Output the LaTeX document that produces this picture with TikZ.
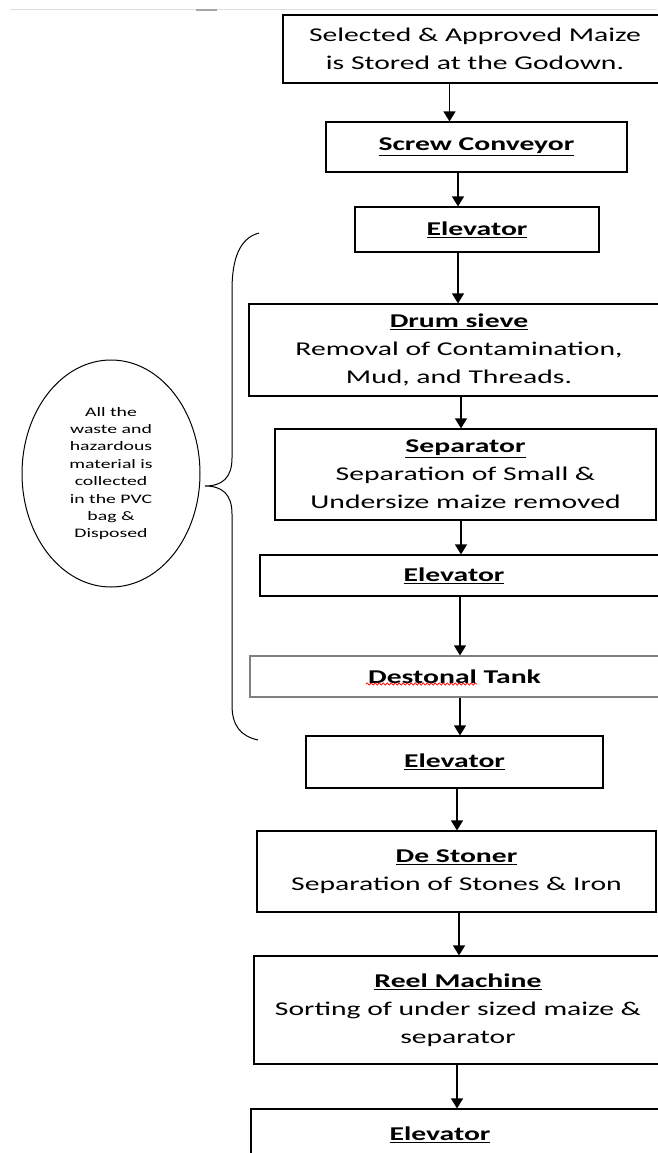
\documentclass[tikz,border=0pt]{standalone}
\usepackage{fontspec}
\setmainfont[FakeStretch=1.52]{Carlito}
\usetikzlibrary{arrows.meta,shapes.geometric,decorations.pathmorphing}
\newcommand{\ttl}[1]{\textbf{\underline{#1}}}

\begin{document}
\begin{tikzpicture}[x=1pt,y=-1pt,
  box/.style={draw,line width=1.2pt,rectangle,align=center,inner sep=0pt,font=\fontsize{19.5}{28}\selectfont},
  arr/.style={line width=1.3pt,-{Triangle[length=10pt,width=12pt]}}]
\useasboundingbox (0,0) rectangle (657,1153);
\fill[white] (0,0) rectangle (657,1153);
\draw[gray!25,line width=1pt] (10,10) -- (657,10);
\draw[gray!70,line width=1.5pt] (196,10) -- (217,10);

\node[box,minimum width=384pt,minimum height=68pt] (store) at (475,49) {Selected \& Approved Maize\\is Stored at the Godown.};
\node[box,minimum width=301pt,minimum height=50pt] (screw) at (476.5,147) {\ttl{Screw Conveyor}};
\node[box,minimum width=244pt,minimum height=45pt] (el1) at (477,229.5) {\ttl{Elevator}};
\node[box,minimum width=420pt,minimum height=92pt] (drum) at (459,350) {\ttl{Drum sieve}\\Removal of Contamination,\\Mud, and Threads.};
\node[box,minimum width=381pt,minimum height=91pt] (sep) at (465.5,474.5) {\ttl{Separator}\\Separation of Small \&\\Undersize maize removed};
\node[box,minimum width=400pt,minimum height=41pt] (el2) at (460,575.5) {\hspace*{-12pt}\ttl{Elevator}};
\node[box,draw=gray,minimum width=409pt,minimum height=41pt] (dtank) at (454.5,676.5) {\textbf{Destonal Tank}};
\node[box,minimum width=297pt,minimum height=52pt] (el3) at (454.5,762) {\ttl{Elevator}};
\node[box,minimum width=399pt,minimum height=81pt] (dstoner) at (456.5,871.5) {\ttl{De Stoner}\\Separation of Stones \& Iron};
\node[box,minimum width=408pt,minimum height=108pt] (reel) at (458,1010) {\ttl{Reel Machine}\\Sorting of under sized maize \&\\separator};
\node[box,minimum width=409pt,minimum height=51pt] (el4) at (455.5,1134.5) {\hspace*{-31pt}\ttl{Elevator}};

\draw[red,line width=0.7pt,decorate,decoration={snake,amplitude=1.1pt,segment length=4pt}] (366,684) -- (477,684);

\foreach \a/\b/\s/\t in {store/screw/-25.5/-27, screw/el1/-18.5/-19, el1/drum/-19/-1, drum/sep/2/-4.5, sep/el2/-4.5/1, el2/dtank/0/5.5, dtank/el3/5.5/5.5, el3/dstoner/2.5/0.5, dstoner/reel/2.5/1, reel/el4/-1/1.5}
  \draw[arr] ([xshift=\s pt]\a.south) -- ([xshift=\t pt]\b.north);

\node[draw,ellipse,line width=1pt,minimum width=178pt,minimum height=227pt,inner sep=0pt,align=center,font=\fontsize{13}{17.4}\selectfont] (waste) at (111,473.5) {All the\\waste and\\hazardous\\material is\\collected\\in the PVC\\bag \&\\Disposed};

\draw[line width=1pt] (259,233) .. controls (240,238) and (232,258) .. (232,290) -- (232,458) .. controls (232,478) and (222,486) .. (205,486) .. controls (222,486) and (232,494) .. (232,514) -- (232,705) .. controls (232,725) and (240,736) .. (258,740);
\end{tikzpicture}
\end{document}
